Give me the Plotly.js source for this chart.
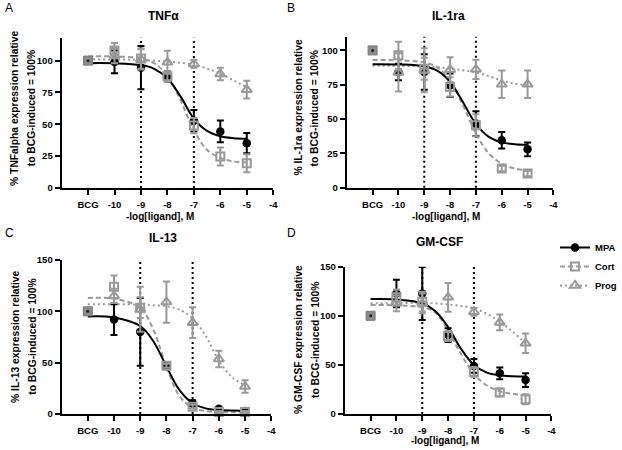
<!DOCTYPE html>
<html>
<head>
<meta charset="utf-8">
<script src="https://cdn.plot.ly/plotly-3.0.1.min.js"></script>
<style>
  html, body { margin: 0; padding: 0; background: #fff; }
  #chart { width: 622px; height: 450px; }
</style>
</head>
<body>
<div id="chart"></div>
<script>
// ---------------- data ----------------
const seriesNames = ['MPA', 'Cort', 'Prog'];
const doseX = [-10, -9, -8, -7, -6, -5];
const bcgX = [-11];
const bcgValue = [100];
const curveX = [-11, -10, -9, -8.5, -8, -7.5, -7, -6.5, -6, -5.5, -5];
const tickVals = [-11, -10, -9, -8, -7, -6, -5, -4];
const tickText = ['BCG', '-10', '-9', '-8', '-7', '-6', '-5', '-4'];
const vlineX = [-9, -7];
const panelTitles = ['TNFα', 'IL-1ra', 'IL-13', 'GM-CSF'];
const panelLetters = ['A', 'B', 'C', 'D'];
const yTitleLine1 = ['% TNFalpha expression relative', '% IL-1ra expression relative',
                     '% IL-13 expression relative', '% GM-CSF expression relative'];
const yTitleLine2 = ['to BCG-induced = 100%', 'to BCG-induced = 100%',
                     'to BCG-induced = 100%', 'to BCG-induced = 100%'];
const xTitle = '-log[ligand], M';
const yTicksAB = [0, 25, 50, 75, 100];
const yTicksCD = [0, 50, 100, 150];
const yMax = [118, 110, 150, 150];

// Panel A: TNFα
const tnfMPA = [99, 94.5, 87.7, 52.8, 44.4, 35.2];
const tnfMPAErr = [9, 17, 4, 8.5, 8.5, 8];
const tnfCort = [107.9, 101.6, 87.7, 49, 24.7, 19.4];
const tnfCortErr = [6, 8, 4, 6, 7, 7];
const tnfProg = [104, 101, 98.7, 97.4, 89.5, 77.2];
const tnfProgErr = [6, 8, 9, 3, 5, 7];
const tnfMPAFit = [98, 97.9, 96.5, 93.6, 86.1, 71.7, 54.5, 44.8, 40.6, 39.1, 38.6];
const tnfCortFit = [103.5, 103.3, 101.7, 97.9, 88.1, 68.7, 45.4, 29.9, 23.6, 20.8, 20.0];
const tnfProgFit = [101, 100.9, 100.5, 100, 99.2, 98.3, 96.8, 93.8, 89.8, 84.5, 79];

// Panel B: IL-1ra
const il1MPA = [84.3, 84.3, 74.6, 46.7, 34.6, 28];
const il1MPAErr = [6, 13, 8.6, 9, 6, 5];
const il1Cort = [96.4, 86.7, 73.4, 45.5, 14, 10.4];
const il1CortErr = [10, 8, 7, 8, 2, 2];
const il1Prog = [84, 85.5, 86, 86.2, 75.3, 75.3];
const il1ProgErr = [14, 16, 9, 7, 10, 10];
const il1MPAFit = [90, 89.8, 88.4, 85.2, 77, 62.2, 46.4, 37, 33, 31.7, 31.2];
const il1CortFit = [93, 92.8, 91.2, 87.8, 78, 60, 39.5, 25, 17.5, 14, 12.5];
const il1ProgFit = [88.8, 88.7, 88.4, 87.8, 86.8, 85.6, 84, 81.3, 78, 75.8, 74.6];

// Panel C: IL-13
const il13MPA = [92, 80, 46.4, 10.5, 5, 3];
const il13MPAErr = [15, 33, 2, 3, 1, 1];
const il13Cort = [124, 103.6, 47, 7, 2, 2];
const il13CortErr = [11, 10, 2, 2, 1, 1];
const il13Prog = [115, 102, 109, 89, 53.6, 26.8];
const il13ProgErr = [7, 22, 20, 15, 8, 6];
const il13MPAFit = [95, 94, 85.7, 70.9, 46.4, 23.2, 10.5, 5.5, 3.8, 3.3, 3.1];
const il13CortFit = [113, 112.3, 103.3, 82.3, 45.9, 17.4, 6, 2.8, 1.9, 1.6, 1.5];
const il13ProgFit = [107, 106.9, 106.6, 106, 105, 101.5, 93, 76, 52, 36, 28];

// Panel D: GM-CSF
const gmMPA = [122.8, 122.8, 80.4, 48.9, 41.4, 34.6];
const gmMPAErr = [14, 27, 7, 7, 6, 7];
const gmCort = [118.8, 114.4, 79.4, 42.8, 22, 15];
const gmCortErr = [8, 10, 5, 5, 4, 5];
const gmProg = [112.7, 112.7, 118.8, 104, 93.3, 72];
const gmProgErr = [8, 10, 14.6, 4, 8, 10];
const gmMPAFit = [117, 116.6, 112.8, 105, 88.6, 66.4, 49.9, 42.2, 39.4, 38.4, 38.1];
const gmCortFit = [111, 110.7, 108.6, 103.5, 85, 61, 40.5, 29, 23, 20.5, 19.3];
const gmProgFit = [112.7, 112.9, 113.2, 112.6, 111.6, 110, 107.6, 102, 94, 83.8, 72];

// ---------------- styling ----------------
const FONT = 'Liberation Sans, Arial, Helvetica, sans-serif';
const GREY = '#999999';
const W = 622, H = 450;

const styles = {
  MPA:  { color: '#000000', dash: 'solid',    marker: { symbol: 'circle', size: 8.5, color: '#000000' } },
  Cort: { color: GREY, dash: '5px,3px', marker: { symbol: 'square-open', size: 8, color: GREY, line: { width: 2, color: GREY } } },
  Prog: { color: GREY, dash: '2px,3px', marker: { symbol: 'triangle-up-open', size: 9, color: GREY, line: { width: 2, color: GREY } } }
};

const panels = [
  { pts: [tnfMPA, tnfCort, tnfProg], err: [tnfMPAErr, tnfCortErr, tnfProgErr], fit: [tnfMPAFit, tnfCortFit, tnfProgFit],
    px: [62, 275], py: [37.7, 188], yt: yTicksAB },
  { pts: [il1MPA, il1Cort, il1Prog], err: [il1MPAErr, il1CortErr, il1ProgErr], fit: [il1MPAFit, il1CortFit, il1ProgFit],
    px: [349, 557], py: [36.7, 187.7], yt: yTicksAB },
  { pts: [il13MPA, il13Cort, il13Prog], err: [il13MPAErr, il13CortErr, il13ProgErr], fit: [il13MPAFit, il13CortFit, il13ProgFit],
    px: [62, 273], py: [260, 414], yt: yTicksCD },
  { pts: [gmMPA, gmCort, gmProg], err: [gmMPAErr, gmCortErr, gmProgErr], fit: [gmMPAFit, gmCortFit, gmProgFit],
    px: [347, 555], py: [266.7, 414], yt: yTicksCD }
];

// annotation positions (px)
const letterPos = [[3, 8], [287, 8], [3, 233], [287, 233]];
const titlePos = [[165, 15.5], [451, 15.5], [164, 237.5], [442.5, 242]];
const xTitlePos = [[161, 216], [448.5, 216], null, [448, 440]];
const yTitlePos = [[14, 31.5, 108], [299.5, 316.5, 108], [15, 32, 337], [300, 317, 340]];

const traces = [];
const layout = {
  width: W, height: H,
  margin: { l: 0, r: 0, t: 0, b: 0 },
  paper_bgcolor: '#ffffff', plot_bgcolor: 'rgba(0,0,0,0)',
  font: { family: FONT, color: '#000' },
  showlegend: true,
  legend: {
    x: 559 / W, y: 1 - 233 / H, xanchor: 'left', yanchor: 'top',
    font: { family: FONT, size: 9.5, weight: 'bold', color: '#000' },
    bgcolor: 'rgba(0,0,0,0)', borderwidth: 0, itemwidth: 30, tracegroupgap: 0
  },
  shapes: [], annotations: []
};

const tickFont = { family: FONT, size: 9.5, weight: 'bold', color: '#000' };

panels.forEach((p, i) => {
  const n = i === 0 ? '' : String(i + 1);
  const xa = 'x' + n, ya = 'y' + n;
  layout['xaxis' + n] = {
    domain: [p.px[0] / W, p.px[1] / W], anchor: ya, range: [-12, -4],
    tickvals: tickVals, ticktext: tickText, tickfont: tickFont, ticklabelstandoff: 2,
    showline: true, linecolor: '#000', linewidth: 2,
    ticks: 'outside', ticklen: 5, tickwidth: 2, tickcolor: '#000',
    showgrid: false, zeroline: false, fixedrange: true
  };
  layout['yaxis' + n] = {
    domain: [1 - p.py[1] / H, 1 - p.py[0] / H], anchor: xa, range: [0, yMax[i]],
    tickvals: p.yt, tickfont: tickFont,
    showline: true, linecolor: '#000', linewidth: 2,
    ticks: 'outside', ticklen: 5, tickwidth: 2, tickcolor: '#000',
    showgrid: false, zeroline: false, fixedrange: true
  };
  // vertical dotted reference lines
  vlineX.forEach(v => {
    layout.shapes.push({ type: 'line', xref: xa, yref: ya + ' domain', x0: v, x1: v, y0: 0, y1: 1,
      layer: 'below', line: { color: '#000', width: 2, dash: '2px,3px' } });
  });
  // fitted curves (drawn first, Prog at bottom)
  [2, 1, 0].forEach(s => {
    const st = styles[seriesNames[s]];
    traces.push({ type: 'scatter', mode: 'lines', x: curveX, y: p.fit[s], xaxis: xa, yaxis: ya,
      line: { color: st.color, width: 2, dash: st.dash, shape: 'spline', smoothing: 1 },
      showlegend: false, hoverinfo: 'skip' });
  });
  // BCG reference point (all series normalised to 100)
  traces.push({ type: 'scatter', mode: 'markers', x: bcgX, y: bcgValue, xaxis: xa, yaxis: ya,
    marker: { symbol: 'square', size: 9, color: '#8c8c8c', line: { width: 1, color: '#777' } }, showlegend: false, cliponaxis: false });
  traces.push({ type: 'scatter', mode: 'markers', x: bcgX, y: bcgValue, xaxis: xa, yaxis: ya,
    marker: { symbol: 'circle', size: 3, color: '#222' }, showlegend: false, cliponaxis: false });
  // data points with error bars
  [0, 1, 2].forEach(s => {
    const st = styles[seriesNames[s]];
    traces.push({ type: 'scatter', mode: 'markers', x: doseX, y: p.pts[s], xaxis: xa, yaxis: ya,
      marker: st.marker,
      error_y: { type: 'data', array: p.err[s], visible: true, color: st.color, thickness: 2, width: 3.5 },
      showlegend: false, cliponaxis: false });
  });
  // annotations
  layout.annotations.push({ xref: 'paper', yref: 'paper', x: letterPos[i][0] / W, y: 1 - letterPos[i][1] / H,
    xanchor: 'left', yanchor: 'middle', text: panelLetters[i], showarrow: false,
    font: { family: FONT, size: 12, color: '#000' } });
  layout.annotations.push({ xref: 'paper', yref: 'paper', x: titlePos[i][0] / W, y: 1 - titlePos[i][1] / H,
    xanchor: 'center', yanchor: 'middle', text: panelTitles[i], showarrow: false,
    font: { family: FONT, size: 12, weight: 'bold', color: '#000' } });
  if (xTitlePos[i]) {
    layout.annotations.push({ xref: 'paper', yref: 'paper', x: xTitlePos[i][0] / W, y: 1 - xTitlePos[i][1] / H,
      xanchor: 'center', yanchor: 'middle', text: xTitle, showarrow: false,
      font: { family: FONT, size: 10, weight: 'bold', color: '#000' } });
  }
  [yTitleLine1[i], yTitleLine2[i]].forEach((t, k) => {
    layout.annotations.push({ xref: 'paper', yref: 'paper', x: yTitlePos[i][k] / W, y: 1 - yTitlePos[i][2] / H,
      xanchor: 'center', yanchor: 'middle', text: t, textangle: -90, showarrow: false,
      font: { family: FONT, size: 10.3, weight: 'bold', color: '#000' } });
  });
});

// legend entries
seriesNames.forEach(name => {
  const st = styles[name];
  traces.push({ type: 'scatter', mode: 'lines+markers', name: name, x: [null], y: [null],
    xaxis: 'x4', yaxis: 'y4', marker: st.marker, line: { color: st.color, width: 2, dash: st.dash },
    showlegend: true });
});

Plotly.newPlot('chart', traces, layout, { displayModeBar: false, staticPlot: true });
</script>
</body>
</html>
